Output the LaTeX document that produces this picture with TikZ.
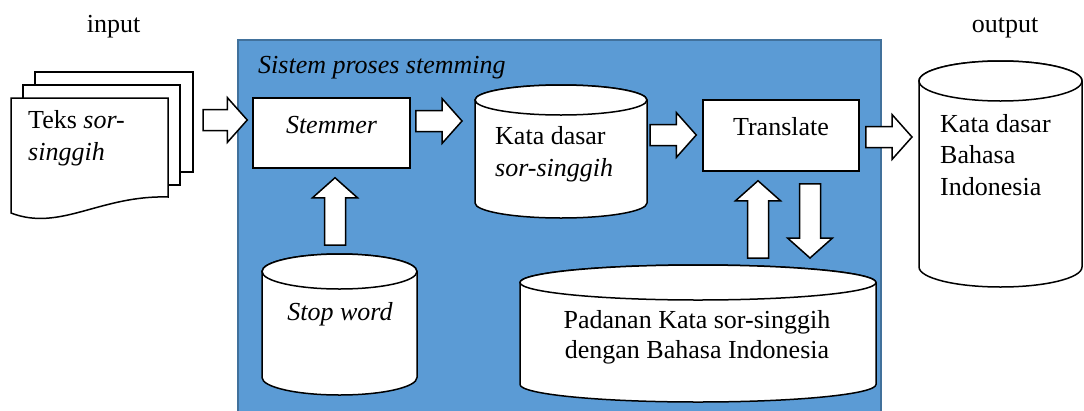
\documentclass[tikz,border=0pt]{standalone}
\usepackage{fontspec}
\setmainfont{Liberation Serif}
\usetikzlibrary{calc}
\definecolor{sysblue}{RGB}{91,155,213}
\definecolor{sysborder}{RGB}{65,113,156}
\tikzset{
  txt/.style={font=\fontsize{26}{31}\selectfont, inner sep=0pt},
  itxt/.style={txt, font=\fontsize{26}{31}\selectfont\itshape},
  outline/.style={draw=black, line width=1.5pt, fill=white, line join=miter},
  boxnode/.style={outline, rectangle, inner sep=0pt},
  area/.style={rectangle, inner sep=0pt, outer sep=0pt, draw=none},
  blk/.style={draw=black, line width=1.5pt, fill=white, line join=miter},
  sysbox/.style={rectangle, fill=sysblue, draw=sysborder, line width=2pt, inner sep=0pt},
}
\newcommand\blockarrow[2]{%
  \draw[blk] let \p1=(#1), \p2=(#2),
    \n1={atan2(\y2-\y1,\x2-\x1)}, \n2={veclen(\x2-\x1,\y2-\y1)} in
    [shift={(\p1)}, rotate=\n1]
    (0,-10.5) -- ({\n2-20},-10.5) -- ({\n2-20},-22.5) -- ({\n2},0)
    -- ({\n2-20},22.5) -- ({\n2-20},10.5) -- (0,10.5) -- cycle;}
% x1 x2 ytop ybottom ry
\newcommand\cylpath[5]{%
  \draw[outline] (#1,#3) -- (#1,#4)
    arc[start angle=180, end angle=0, x radius={(#2-#1)/2}, y radius=#5]
    -- (#2,#3)
    arc[start angle=0, end angle=-180, x radius={(#2-#1)/2}, y radius=#5] -- cycle;
  \draw[outline] ({(#1+#2)/2},#3) ellipse[x radius={(#2-#1)/2}, y radius=#5];}
\begin{document}
\begin{tikzpicture}[x=1pt, y=-1pt]
\useasboundingbox (0,0) rectangle (1084,410);

% system box
\node[sysbox, minimum width=643pt, minimum height=374pt] (sys) at (559.5,227) {};
\node[itxt, anchor=base west] (title) at (258,73) {Sistem proses stemming};

% input / output labels
\node[txt, anchor=base] (inp) at (113.5,32) {input};
\node[txt, anchor=base] (outp) at (1005,32) {output};

% document stack
\draw[outline] (35,72) rectangle (193,172);
\draw[outline] (23,85) rectangle (180,185);
\draw[outline] (11,98) -- (168,98) -- (168,197)
  .. controls (100,195) and (60,232) .. (11,213) -- cycle;
\node[area, minimum width=182pt, minimum height=141pt] (doc) at (102,142.5) {};
\node[txt, anchor=base west] (doc-t1) at (28,128) {Teks \textit{sor-}};
\node[itxt, anchor=base west] (doc-t2) at (28,160) {singgih};

% stemmer
\node[boxnode, minimum width=157pt, minimum height=70pt] (stem) at (331.5,133) {};
\node[itxt, anchor=base] (stem-t) at (331.5,133) {Stemmer};

% translate
\node[boxnode, minimum width=156pt, minimum height=71pt] (trans) at (781,135.5) {};
\node[txt, anchor=base] (trans-t) at (781,135) {Translate};

% kata dasar sor-singgih
\cylpath{475}{647}{100}{203}{15}
\node[area, minimum width=172pt, minimum height=133pt] (kata) at (561,151.5) {};
\node[txt, anchor=base west] (kata-t1) at (495,144) {Kata dasar};
\node[itxt, anchor=base west] (kata-t2) at (495,176) {sor-singgih};

% stop word
\cylpath{262}{417}{271.5}{377.5}{17.5}
\node[area, minimum width=155pt, minimum height=141pt] (stop) at (339.5,324.5) {};
\node[itxt, anchor=base] (stop-t) at (340,320) {Stop word};

% padanan
\cylpath{520}{876}{282.5}{384.5}{17.5}
\node[area, minimum width=356pt, minimum height=137pt] (pad) at (698,333.5) {};
\node[txt, anchor=base] (pad-t1) at (697,328) {Padanan Kata sor-singgih};
\node[txt, anchor=base] (pad-t2) at (697,358) {dengan Bahasa Indonesia};

% output
\cylpath{919}{1082}{81}{267}{20}
\node[area, minimum width=163pt, minimum height=226pt] (out) at (1000.5,174) {};
\node[txt, anchor=base west] (out-t1) at (940,132) {Kata dasar};
\node[txt, anchor=base west] (out-t2) at (940,163) {Bahasa};
\node[txt, anchor=base west] (out-t3) at (940,195) {Indonesia};

% block arrows
\blockarrow{$(doc.east |- 0,120)+(10,0)$}{$(stem.west |- 0,120)+(-5,0)$}
\blockarrow{$(stem.east |- 0,121)+(5,0)$}{$(kata.west |- 0,121)+(-13,0)$}
\blockarrow{$(kata.east |- 0,135)+(3,0)$}{$(trans.west |- 0,135)+(-6,0)$}
\blockarrow{$(trans.east |- 0,137)+(6,0)$}{$(out.west |- 0,137)+(-7,0)$}
\blockarrow{$(stop.north -| 335,0)+(0,-9)$}{$(stem.south -| 335,0)+(0,9)$}
\blockarrow{$(pad.north -| 758,0)+(0,-7)$}{$(trans.south -| 758,0)+(0,9)$}
\blockarrow{$(trans.south -| 810,0)+(0,12)$}{$(pad.north -| 810,0)+(0,-7)$}
\end{tikzpicture}
\end{document}
